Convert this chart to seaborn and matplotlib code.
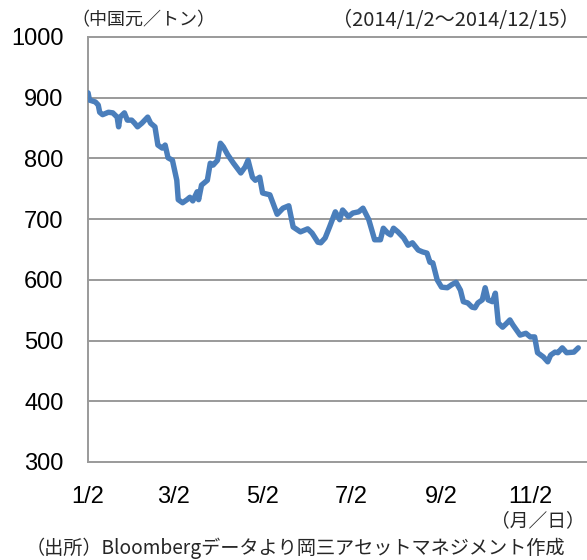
import pandas as pd
import matplotlib
matplotlib.use("Agg")
import matplotlib.pyplot as plt
import seaborn as sns

sns.set_style("white")
plt.rcParams['font.family'] = ['Noto Sans CJK JP', 'DejaVu Sans']

# -----------------------------
# data (days since 2014/1/2, price in CNY/ton)
# -----------------------------
days = [0, 1, 5, 7, 8, 10, 14, 17, 20, 21, 22, 25, 27, 30, 32, 34, 37, 41, 43, 46,
        48, 51, 53, 55, 58, 61, 62, 65, 68, 70, 72, 75, 76, 78, 82, 84, 86, 89, 91, 93,
        96, 100, 105, 108, 110, 113, 115, 118, 120, 125, 130, 134, 138, 141, 146, 151,
        154, 158, 160, 163, 166, 170, 173, 175, 179, 182, 186, 189, 193, 197, 201, 203,
        206, 208, 210, 213, 217, 220, 223, 227, 230, 233, 235, 237, 240, 243, 247, 250,
        253, 256, 258, 261, 264, 266, 268, 271, 273, 275, 278, 280, 282, 285, 288, 290,
        292, 297, 301, 304, 307, 309, 313, 316, 318, 321, 323, 326, 329, 334, 337]
price = [908, 896, 893, 888, 876, 872, 876, 875, 868, 852, 868, 875, 863, 863, 858, 852, 858, 868, 858, 852,
         822, 817, 822, 801, 797, 764, 732, 727, 732, 736, 730, 745, 732, 756, 764, 792, 789, 797, 825, 819,
         806, 792, 776, 786, 797, 769, 764, 769, 743, 740, 708, 718, 722, 687, 679, 684,
         677, 662, 661, 669, 687, 712, 699, 715, 704, 710, 712, 718, 699, 666, 666, 685,
         677, 674, 685, 679, 669, 657, 661, 649, 646, 644, 629, 628, 600, 588, 587, 592,
         596, 583, 564, 562, 555, 554, 562, 567, 587, 567, 564, 578, 529, 522, 529, 534,
         526, 509, 512, 506, 506, 480, 473, 465, 476, 481, 480, 488, 480, 481, 488]

start = pd.Timestamp("2014-01-02")
df = pd.DataFrame({"date": start + pd.to_timedelta(days, unit="D"), "price": price})

tick_dates = pd.to_datetime(["2014-01-02", "2014-03-02", "2014-05-02",
                             "2014-07-02", "2014-09-02", "2014-11-02"])
tick_labels = ["1/2", "3/2", "5/2", "7/2", "9/2", "11/2"]
y_ticks = [300, 400, 500, 600, 700, 800, 900, 1000]

# -----------------------------
# plot
# -----------------------------
fig = plt.figure(figsize=(5.87, 5.60), dpi=100)
ax = fig.add_axes([0.150, 0.175, 0.850, 0.759])

grid_col = "#9a9a9a"
for v in y_ticks[1:]:
    ax.axhline(v, color=grid_col, lw=1.4, zorder=0, clip_on=False)

sns.lineplot(data=df, x="date", y="price", ax=ax, color="#4a7ebb", lw=3.9, zorder=3)

ax.set_xlim(start, start + pd.Timedelta(days=343))
ax.set_ylim(300, 1000)
ax.set_yticks(y_ticks)
ax.set_xticks(tick_dates)
ax.set_xticklabels(tick_labels)
ax.set_xlabel("")
ax.set_ylabel("")

for s in ["top", "right"]:
    ax.spines[s].set_visible(False)
for s in ["left", "bottom"]:
    ax.spines[s].set_color(grid_col)
    ax.spines[s].set_linewidth(1.4)

ax.tick_params(axis="both", direction="out", length=6.5, width=1.4, color=grid_col,
               pad=11, labelsize=17, labelcolor="black")
for lab in ax.get_xticklabels() + ax.get_yticklabels():
    lab.set_family(["Liberation Sans", "DejaVu Sans"])

fig.text(0.122, 0.963, "（中国元／トン）", fontsize=13, ha="left", va="center")
fig.text(0.988, 0.963, "（2014/1/2～2014/12/15）", fontsize=14.5, ha="right", va="center")
fig.text(0.996, 0.071, "（月／日）", fontsize=13.5, ha="right", va="center")
fig.text(0.503, 0.021, "（出所）Bloombergデータより岡三アセットマネジメント作成",
         fontsize=13.8, ha="center", va="center")

fig.savefig("out.png", dpi=100)
